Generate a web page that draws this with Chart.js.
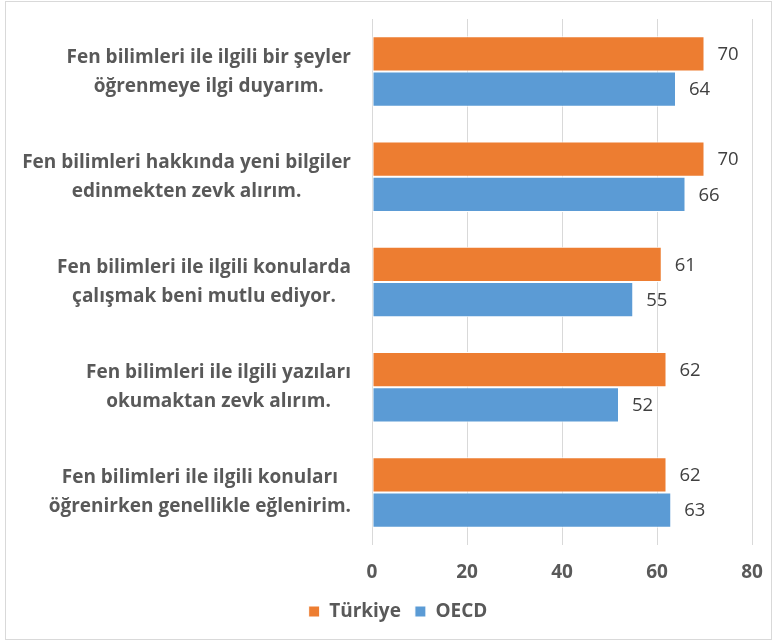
<!DOCTYPE html>
<html>
<head>
<meta charset="utf-8">
<script src="https://cdn.jsdelivr.net/npm/chart.js@4"></script>
<style>
  body { margin: 0; background: #fff; }
  #box { position: absolute; left: 5px; top: 1px; width: 765px; height: 637px; border: 1px solid #d9d9d9; }
</style>
</head>
<body>
<div id="box"><canvas id="fenchart" width="765" height="637"></canvas></div>
<script>
var categories = [
    ['Fen bilimleri ile ilgili bir şeyler', 'öğrenmeye ilgi duyarım.'],
    ['Fen bilimleri hakkında yeni bilgiler', 'edinmekten zevk alırım.'],
    ['Fen bilimleri ile ilgili konularda', 'çalışmak beni mutlu ediyor.'],
    ['Fen bilimleri ile ilgili yazıları', 'okumaktan zevk alırım.'],
    ['Fen bilimleri ile ilgili konuları', 'öğrenirken genellikle eğlenirim.']
];
var turkiye = [70, 70, 61, 62, 62];
var oecd = [64, 66, 55, 52, 63];
var xTicks = [0, 20, 40, 60, 80];

var fontName = '"Open Sans", "Liberation Sans", sans-serif';

// value labels at the end of each bar
var valueLabels = {
    id: 'valueLabels',
    afterDatasetsDraw: function(chart) {
        var ctx = chart.ctx;
        ctx.save();
        ctx.font = '18.5px ' + fontName;
        ctx.fillStyle = '#404040';
        ctx.textAlign = 'left';
        ctx.textBaseline = 'middle';
        chart.data.datasets.forEach(function(ds, i) {
            chart.getDatasetMeta(i).data.forEach(function(bar, j) {
                ctx.fillText(ds.data[j], bar.x + 13, bar.y + 1);
            });
        });
        ctx.restore();
    }
};

// category labels: each block right aligned, its lines centred on each other
var catLabels = {
    id: 'catLabels',
    afterDraw: function(chart) {
        var ctx = chart.ctx;
        var yScale = chart.scales.y;
        var rightEdge = chart.chartArea.left - 21;
        ctx.save();
        ctx.font = 'bold 19px ' + fontName;
        ctx.fillStyle = '#595959';
        ctx.textAlign = 'center';
        ctx.textBaseline = 'middle';
        categories.forEach(function(lines, i) {
            var widest = 0;
            lines.forEach(function(l) { widest = Math.max(widest, ctx.measureText(l).width); });
            var cx = rightEdge - widest / 2;
            var cy = yScale.getPixelForTick(i);
            var lh = 29;
            lines.forEach(function(l, k) {
                ctx.fillText(l, cx, cy + (k - (lines.length - 1) / 2) * lh);
            });
        });
        ctx.restore();
    },
    afterLayout: function(chart) {
        chart.legend.left += 19;
        chart.legend.right += 19;
    }
};

var chart1 = document.getElementById('fenchart');
var myChart1 = new Chart(chart1, {
    type: 'bar',
    data: {
        labels: categories,
        datasets: [{
            label: 'Türkiye',
            data: turkiye,
            backgroundColor: '#ED7D31',
            borderColor: '#ffffff',
            borderWidth: 1,
            borderSkipped: false
        }, {
            label: 'OECD',
            data: oecd,
            backgroundColor: '#5B9BD5',
            borderColor: '#ffffff',
            borderWidth: 1,
            borderSkipped: false
        }]
    },
    options: {
        indexAxis: 'y',
        responsive: false,
        animation: false,
        layout: { padding: { left: 0, right: 19, top: 17, bottom: 8 } },
        datasets: { bar: { categoryPercentage: 0.67, barPercentage: 1 } },
        scales: {
            x: {
                min: 0,
                max: 80,
                afterBuildTicks: function(scale) {
                    scale.ticks = xTicks.map(function(v) { return { value: v }; });
                },
                afterFit: function(scale) {
                    scale.paddingLeft = 0;
                    scale.paddingRight = 0;
                    scale.height = 43;
                },
                grid: { color: '#d9d9d9', drawTicks: false },
                border: { display: false },
                ticks: {
                    padding: 16,
                    color: '#595959',
                    font: { family: fontName, size: 19, weight: 'bold' }
                }
            },
            y: {
                afterFit: function(scale) { scale.width = 366; scale.paddingTop = 0; scale.paddingBottom = 0; },
                grid: { display: false },
                border: { display: false },
                ticks: { display: false }
            }
        },
        plugins: {
            legend: {
                position: 'bottom',
                align: 'center',
                labels: {
                    boxWidth: 11,
                    boxHeight: 11,
                    padding: 14,
                    color: '#595959',
                    font: { family: fontName, size: 19, weight: 'bold' }
                }
            },
            tooltip: { enabled: false }
        }
    },
    plugins: [valueLabels, catLabels]
});
</script>
</body>
</html>
